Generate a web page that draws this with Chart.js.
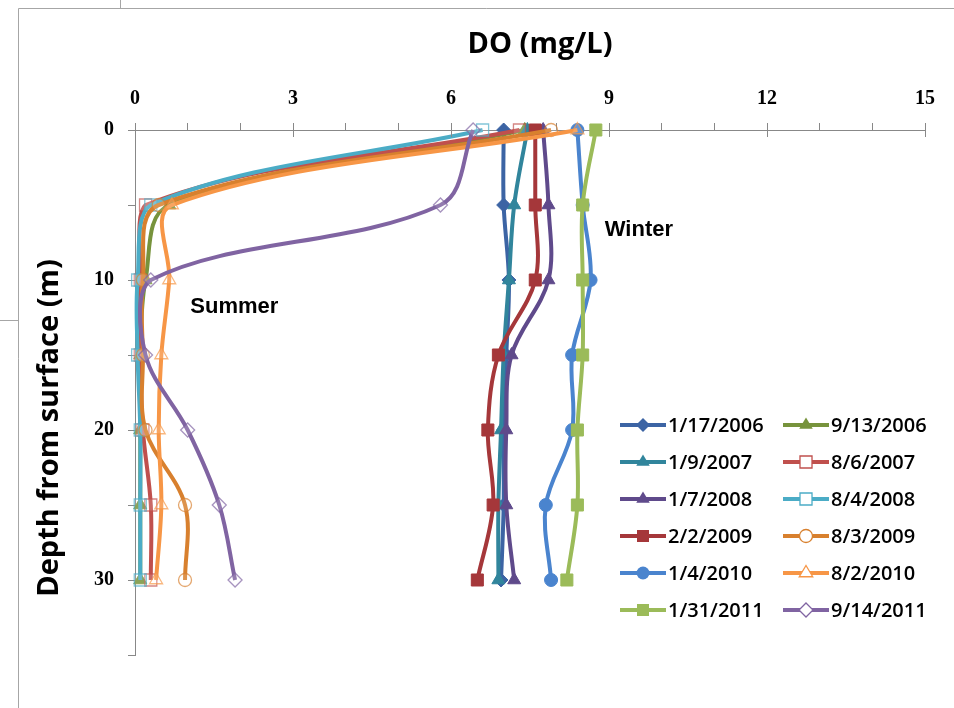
<!DOCTYPE html>
<html>
<head>
<meta charset="utf-8">
<script src="https://cdn.jsdelivr.net/npm/chart.js@4/dist/chart.umd.min.js"></script>
<style>
  body { margin: 0; background: #fff; }
</style>
</head>
<body>
<canvas id="chart" width="954" height="708"></canvas>
<script>
// depth of each sample (m)
const depths = [0, 5, 10, 15, 20, 25, 30];

const seriesLabels = ['1/17/2006', '9/13/2006', '1/9/2007', '8/6/2007', '1/7/2008', '8/4/2008',
                      '2/2/2009', '8/3/2009', '1/4/2010', '8/2/2010', '1/31/2011', '9/14/2011'];

// DO (mg/L) at each depth
const do_20060117 = [7.0, 7.0, 7.1, 7.05, 7.0, 7.0, 6.95];
const do_20060913 = [7.4, 0.65, 0.2, 0.1, 0.1, 0.1, 0.1];
const do_20070109 = [7.45, 7.2, 7.1, 7.0, 6.95, 6.9, 6.9];
const do_20070806 = [7.3, 0.2, 0.1, 0.1, 0.15, 0.3, 0.3];
const do_20080107 = [7.75, 7.85, 7.85, 7.15, 7.05, 7.05, 7.2];
const do_20080804 = [6.6, 0.3, 0.05, 0.05, 0.1, 0.1, 0.1];
const do_20090202 = [7.6, 7.6, 7.6, 6.9, 6.7, 6.8, 6.5];
const do_20090803 = [7.9, 0.45, 0.15, 0.15, 0.2, 0.95, 0.95];
const do_20100104 = [8.4, 8.5, 8.65, 8.3, 8.3, 7.8, 7.9];
const do_20100802 = [8.4, 0.7, 0.65, 0.5, 0.45, 0.5, 0.4];
const do_20110131 = [8.75, 8.5, 8.5, 8.5, 8.4, 8.4, 8.2];
const do_20110914 = [6.42, 5.8, 0.3, 0.2, 1.0, 1.6, 1.9];

const seriesValues = [do_20060117, do_20060913, do_20070109, do_20070806, do_20080107, do_20080804,
                      do_20090202, do_20090803, do_20100104, do_20100802, do_20110131, do_20110914];

const seriesColors = ['#3C64A4', '#77933C', '#31859C', '#C0504D', '#5F4A8B', '#4BACC6',
                      '#A5373A', '#D8802E', '#4A84CE', '#F79646', '#9BBB59', '#8064A2'];
const seriesMarkers = ['rectRot', 'triangle', 'triangle', 'rect', 'triangle', 'rect',
                       'rect', 'circle', 'circle', 'triangle', 'rect', 'rectRot'];
const seriesHollow = [false, false, false, true, false, true, false, true, false, true, false, true];

const markerRadius = { rect: 8.5, rectRot: 7, triangle: 7.5, circle: 6.5 };

const datasets = seriesLabels.map((label, i) => ({
    label: label,
    data: depths.map((d, j) => ({ x: seriesValues[i][j], y: d })),
    showLine: true,
    tension: 0.35,
    borderColor: seriesColors[i],
    borderWidth: 4,
    pointStyle: seriesMarkers[i],
    pointRadius: markerRadius[seriesMarkers[i]],
    pointBorderWidth: seriesHollow[i] ? 1.3 : 1,
    pointBorderColor: seriesHollow[i] ? seriesColors[i] + 'B0' : seriesColors[i],
    pointBackgroundColor: seriesHollow[i] ? 'rgba(255,255,255,0.15)' : seriesColors[i],
    clip: false,
    order: seriesLabels.length - i
}));

function drawMarker(ctx, style, r, x, y) {
    ctx.beginPath();
    if (style === 'circle') {
        ctx.arc(x, y, r, 0, Math.PI * 2);
    } else if (style === 'rect') {
        const s = r * Math.SQRT1_2;
        ctx.rect(x - s, y - s, 2 * s, 2 * s);
    } else if (style === 'rectRot') {
        ctx.moveTo(x, y - r); ctx.lineTo(x + r, y); ctx.lineTo(x, y + r); ctx.lineTo(x - r, y);
        ctx.closePath();
    } else if (style === 'triangle') {
        const h = r * 1.5;
        ctx.moveTo(x, y - h * 2 / 3); ctx.lineTo(x + r * 0.9, y + h / 3); ctx.lineTo(x - r * 0.9, y + h / 3);
        ctx.closePath();
    }
}

const extras = {
    id: 'extras',
    beforeDraw(chart) {
        const ctx = chart.ctx;
        ctx.save();
        ctx.strokeStyle = '#a6a6a6';
        ctx.lineWidth = 1;
        ctx.beginPath();
        ctx.moveTo(18.5, 708); ctx.lineTo(18.5, 8.5); ctx.lineTo(954, 8.5);
        ctx.moveTo(120.5, 0); ctx.lineTo(120.5, 8.5);
        ctx.moveTo(0, 320.5); ctx.lineTo(18.5, 320.5);
        ctx.stroke();
        ctx.restore();
    },
    afterDraw(chart) {
        const ctx = chart.ctx;
        const xs = chart.scales.x, ys = chart.scales.y;
        ctx.save();
        // major ticks cross the top axis
        ctx.strokeStyle = '#888';
        ctx.lineWidth = 1;
        ctx.beginPath();
        for (let v = 0; v <= 15; v += 3) {
            const px = Math.round(xs.getPixelForValue(v)) + 0.5;
            ctx.moveTo(px, xs.bottom); ctx.lineTo(px, xs.bottom + 7);
        }
        ctx.stroke();
        ctx.fillStyle = '#000';
        // axis titles
        ctx.font = 'bold 29px "Open Sans"';
        ctx.textAlign = 'center';
        ctx.textBaseline = 'middle';
        ctx.fillText('DO (mg/L)', 540, 45);
        ctx.save();
        ctx.translate(50, 428);
        ctx.rotate(-Math.PI / 2);
        ctx.fillText('Depth from surface (m)', 0, 0);
        ctx.restore();
        // season labels
        ctx.font = 'bold 22px "Liberation Sans"';
        ctx.textAlign = 'left';
        ctx.fillText('Winter', xs.getPixelForValue(8.92), ys.getPixelForValue(6.67));
        ctx.fillText('Summer', xs.getPixelForValue(1.05), ys.getPixelForValue(11.8));
        // legend, two columns
        ctx.font = '600 20px "Open Sans"';
        ctx.textBaseline = 'middle';
        seriesLabels.forEach((label, i) => {
            const col = i % 2, row = Math.floor(i / 2);
            const x0 = col === 0 ? 620 : 783;
            const y0 = 425 + row * 37;
            ctx.strokeStyle = seriesColors[i];
            ctx.lineWidth = 4;
            ctx.beginPath();
            ctx.moveTo(x0, y0); ctx.lineTo(x0 + 46, y0);
            ctx.stroke();
            drawMarker(ctx, seriesMarkers[i], markerRadius[seriesMarkers[i]], x0 + 23, y0);
            if (seriesHollow[i]) {
                ctx.fillStyle = '#fff';
                ctx.fill();
                ctx.lineWidth = 1.3;
                ctx.stroke();
            } else {
                ctx.fillStyle = seriesColors[i];
                ctx.fill();
            }
            ctx.fillStyle = '#000';
            ctx.fillText(label, x0 + 48, y0 + 1);
        });
        ctx.restore();
    }
};

new Chart(document.getElementById('chart').getContext('2d'), {
    type: 'scatter',
    data: { datasets: datasets },
    options: {
        responsive: false,
        animation: false,
        devicePixelRatio: 1,
        layout: { padding: { left: 0, top: 0, right: 29, bottom: 53 } },
        plugins: { legend: { display: false }, tooltip: { enabled: false } },
        scales: {
            x: {
                type: 'linear',
                position: 'top',
                min: 0,
                max: 15,
                afterFit: s => { s.height = 130; },
                ticks: {
                    stepSize: 1,
                    autoSkip: false,
                    maxRotation: 0,
                    padding: 12,
                    color: '#000',
                    font: { family: '"Liberation Serif"', size: 20, weight: 'bold' },
                    callback: v => (v % 3 === 0 ? v : '')
                },
                grid: { drawOnChartArea: false, tickLength: 7, color: '#888' },
                border: { color: '#888' }
            },
            y: {
                type: 'linear',
                reverse: true,
                min: 0,
                max: 35,
                afterFit: s => { s.width = 135; },
                ticks: {
                    stepSize: 5,
                    autoSkip: false,
                    padding: 14,
                    color: '#000',
                    font: { family: '"Liberation Serif"', size: 20, weight: 'bold' },
                    callback: v => (v % 10 === 0 && v <= 30 ? v : '')
                },
                grid: { drawOnChartArea: false, tickLength: 7, color: '#888' },
                border: { color: '#888' }
            }
        }
    },
    plugins: [extras]
});
</script>
</body>
</html>
